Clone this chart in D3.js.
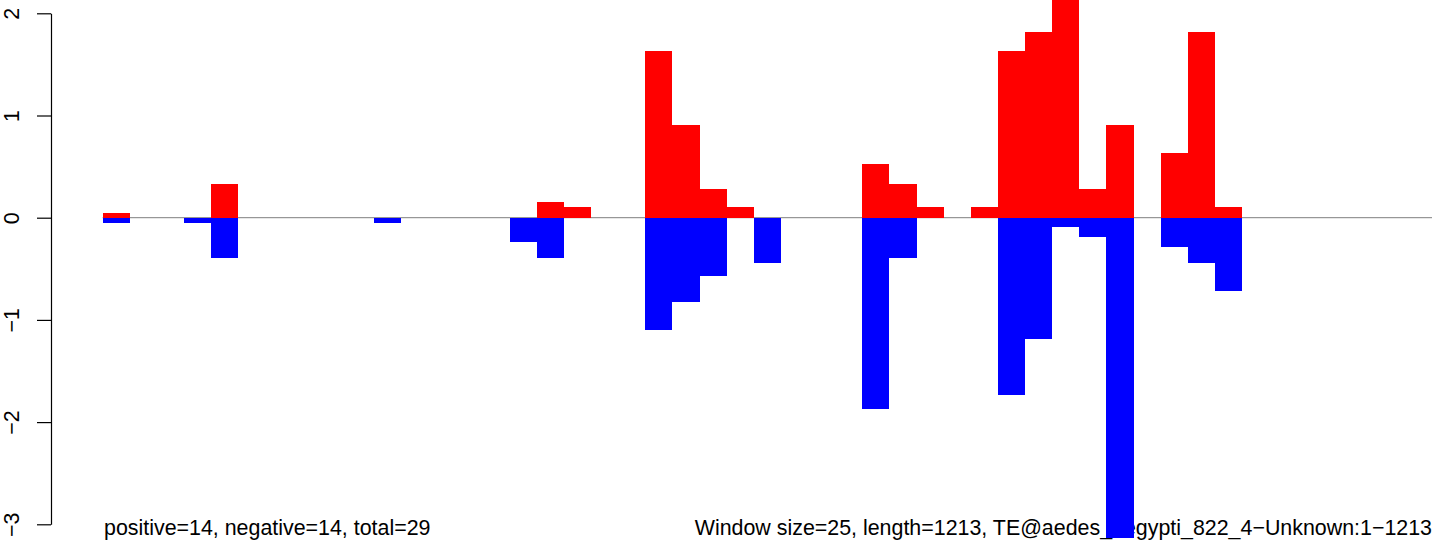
<!DOCTYPE html>
<html>
<head>
<meta charset="utf-8">
<script src="https://cdn.jsdelivr.net/npm/d3@7"></script>
<style>
  body { margin: 0; background: #fff; }
  svg { display: block; font-family: "Liberation Sans", Arial, Helvetica, sans-serif; }
</style>
</head>
<body>
<div id="viz"></div>
<script>
// window size 25 bp, 49 windows over length 1213
let windowSize = 25
let nWindows = 49

// positive score per window (0 = no bar)
let posValues = [0.05, 0, 0, 0, 0.33, 0, 0, 0, 0, 0,
  0, 0, 0, 0, 0, 0, 0.15, 0.1, 0, 0,
  1.63, 0.91, 0.28, 0.1, 0, 0, 0, 0, 0.53, 0.33,
  0.1, 0, 0.1, 1.63, 1.82, 2.3, 0.28, 0.91, 0, 0.63,
  1.82, 0.1, 0, 0, 0, 0, 0, 0, 0]

// negative score per window (0 = no bar)
let negValues = [-0.05, 0, 0, -0.05, -0.39, 0, 0, 0, 0, 0,
  -0.05, 0, 0, 0, 0, -0.24, -0.39, 0, 0, 0,
  -1.1, -0.82, -0.57, 0, -0.44, 0, 0, 0, -1.87, -0.39,
  0, 0, 0, -1.73, -1.19, -0.09, -0.19, -3.13, 0, -0.29,
  -0.44, -0.72, 0, 0, 0, 0, 0, 0, 0]

let yTicks = [-3, -2, -1, 0, 1, 2]

let leftLabel = "positive=14, negative=14, total=29"
let rightLabel = "Window size=25, length=1213, TE@aedes_aegypti_822_4\u2212Unknown:1\u22121213"

let w = 1444
let h = 543
let fontSize = 21.4

let bars = []
for (let i = 0; i < nWindows; i++) {
  if (posValues[i] != 0) bars.push({ start: i * windowSize, v: posValues[i], color: "#ff0000" })
  if (negValues[i] != 0) bars.push({ start: i * windowSize, v: negValues[i], color: "#0000ff" })
}

const svg = d3.select("#viz")
  .append("svg")
  .attr("width", w)
  .attr("height", h)

const xScale = d3.scaleLinear()
  .domain([0, nWindows * windowSize])
  .range([102.7, 1432])

const yScale = d3.scaleLinear()
  .domain([-3, 2])
  .range([524.3, 13.3])

// y axis, R style with rotated labels
let yAxis = svg.append("g")
  .attr("transform", "translate(51,0)")
  .call(d3.axisLeft(yScale)
    .tickValues(yTicks)
    .tickFormat(d3.format("d"))
    .tickSize(14)
    .tickSizeOuter(0))

yAxis.select(".domain").attr("stroke-width", 1.2)
yAxis.selectAll(".tick line").attr("stroke-width", 1.2)
yAxis.selectAll(".tick text")
  .attr("transform", "rotate(-90)")
  .attr("x", 0)
  .attr("y", -32)
  .attr("dy", null)
  .attr("text-anchor", "middle")
  .attr("font-size", fontSize)
  .attr("font-family", null)
  .attr("fill", "#000")

// labels at the bottom
svg.append("text")
  .attr("x", 104)
  .attr("y", 535)
  .attr("font-size", fontSize)
  .text(leftLabel)

svg.append("text")
  .attr("x", 1432)
  .attr("y", 535)
  .attr("text-anchor", "end")
  .attr("font-size", fontSize)
  .text(rightLabel)

// zero line
svg.append("line")
  .attr("x1", xScale(0))
  .attr("y1", yScale(0))
  .attr("x2", xScale(nWindows * windowSize))
  .attr("y2", yScale(0))
  .attr("stroke", "#7f7f7f")
  .attr("stroke-width", 1)

// bars
svg.append("g")
  .selectAll("rect")
  .data(bars)
  .enter()
  .append("rect")
  .attr("x", d => xScale(d.start))
  .attr("y", d => yScale(Math.max(0, d.v)))
  .attr("width", d => xScale(d.start + windowSize) - xScale(d.start))
  .attr("height", d => Math.abs(yScale(d.v) - yScale(0)))
  .attr("fill", d => d.color)
  .attr("shape-rendering", "crispEdges")
</script>
</body>
</html>
